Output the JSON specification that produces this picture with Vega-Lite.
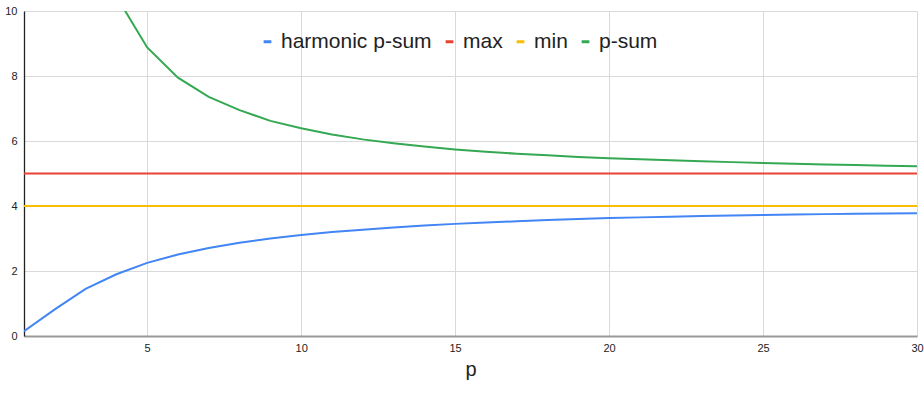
{
  "$schema": "https://vega.github.io/schema/vega-lite/v6.json",
  "width": 893,
  "height": 325,
  "autosize": {"type": "none"},
  "padding": {"left": 24, "top": 11, "right": 7, "bottom": 73},
  "background": "white",
  "config": {
    "view": {"stroke": null},
    "font": "Liberation Sans",
    "axis": {"labelFont": "Liberation Sans", "titleFont": "Liberation Sans"}
  },
  "datasets": {
    "rows": [
      {"p":1,"series":"harmonic p-sum","value":0.15},{"p":2,"series":"harmonic p-sum","value":0.82},{"p":3,"series":"harmonic p-sum","value":1.45},{"p":4,"series":"harmonic p-sum","value":1.9},{"p":5,"series":"harmonic p-sum","value":2.25},{"p":6,"series":"harmonic p-sum","value":2.51},{"p":7,"series":"harmonic p-sum","value":2.71},{"p":8,"series":"harmonic p-sum","value":2.87},{"p":9,"series":"harmonic p-sum","value":3.0},{"p":10,"series":"harmonic p-sum","value":3.11},{"p":11,"series":"harmonic p-sum","value":3.2},{"p":12,"series":"harmonic p-sum","value":3.27},{"p":13,"series":"harmonic p-sum","value":3.34},{"p":14,"series":"harmonic p-sum","value":3.4},{"p":15,"series":"harmonic p-sum","value":3.45},{"p":16,"series":"harmonic p-sum","value":3.49},{"p":17,"series":"harmonic p-sum","value":3.53},{"p":18,"series":"harmonic p-sum","value":3.57},{"p":19,"series":"harmonic p-sum","value":3.6},{"p":20,"series":"harmonic p-sum","value":3.63},{"p":21,"series":"harmonic p-sum","value":3.65},{"p":22,"series":"harmonic p-sum","value":3.67},{"p":23,"series":"harmonic p-sum","value":3.69},{"p":24,"series":"harmonic p-sum","value":3.71},{"p":25,"series":"harmonic p-sum","value":3.72},{"p":26,"series":"harmonic p-sum","value":3.74},{"p":27,"series":"harmonic p-sum","value":3.75},{"p":28,"series":"harmonic p-sum","value":3.76},{"p":29,"series":"harmonic p-sum","value":3.77},{"p":30,"series":"harmonic p-sum","value":3.78},
      {"p":1,"series":"max","value":5},{"p":2,"series":"max","value":5},{"p":3,"series":"max","value":5},{"p":4,"series":"max","value":5},{"p":5,"series":"max","value":5},{"p":6,"series":"max","value":5},{"p":7,"series":"max","value":5},{"p":8,"series":"max","value":5},{"p":9,"series":"max","value":5},{"p":10,"series":"max","value":5},{"p":11,"series":"max","value":5},{"p":12,"series":"max","value":5},{"p":13,"series":"max","value":5},{"p":14,"series":"max","value":5},{"p":15,"series":"max","value":5},{"p":16,"series":"max","value":5},{"p":17,"series":"max","value":5},{"p":18,"series":"max","value":5},{"p":19,"series":"max","value":5},{"p":20,"series":"max","value":5},{"p":21,"series":"max","value":5},{"p":22,"series":"max","value":5},{"p":23,"series":"max","value":5},{"p":24,"series":"max","value":5},{"p":25,"series":"max","value":5},{"p":26,"series":"max","value":5},{"p":27,"series":"max","value":5},{"p":28,"series":"max","value":5},{"p":29,"series":"max","value":5},{"p":30,"series":"max","value":5},
      {"p":1,"series":"min","value":4},{"p":2,"series":"min","value":4},{"p":3,"series":"min","value":4},{"p":4,"series":"min","value":4},{"p":5,"series":"min","value":4},{"p":6,"series":"min","value":4},{"p":7,"series":"min","value":4},{"p":8,"series":"min","value":4},{"p":9,"series":"min","value":4},{"p":10,"series":"min","value":4},{"p":11,"series":"min","value":4},{"p":12,"series":"min","value":4},{"p":13,"series":"min","value":4},{"p":14,"series":"min","value":4},{"p":15,"series":"min","value":4},{"p":16,"series":"min","value":4},{"p":17,"series":"min","value":4},{"p":18,"series":"min","value":4},{"p":19,"series":"min","value":4},{"p":20,"series":"min","value":4},{"p":21,"series":"min","value":4},{"p":22,"series":"min","value":4},{"p":23,"series":"min","value":4},{"p":24,"series":"min","value":4},{"p":25,"series":"min","value":4},{"p":26,"series":"min","value":4},{"p":27,"series":"min","value":4},{"p":28,"series":"min","value":4},{"p":29,"series":"min","value":4},{"p":30,"series":"min","value":4},
      {"p":1,"series":"p-sum","value":100},{"p":2,"series":"p-sum","value":22},{"p":3,"series":"p-sum","value":13.7},{"p":4,"series":"p-sum","value":10.45},{"p":5,"series":"p-sum","value":8.88},{"p":6,"series":"p-sum","value":7.95},{"p":7,"series":"p-sum","value":7.36},{"p":8,"series":"p-sum","value":6.95},{"p":9,"series":"p-sum","value":6.62},{"p":10,"series":"p-sum","value":6.39},{"p":11,"series":"p-sum","value":6.2},{"p":12,"series":"p-sum","value":6.05},{"p":13,"series":"p-sum","value":5.93},{"p":14,"series":"p-sum","value":5.83},{"p":15,"series":"p-sum","value":5.74},{"p":16,"series":"p-sum","value":5.67},{"p":17,"series":"p-sum","value":5.61},{"p":18,"series":"p-sum","value":5.56},{"p":19,"series":"p-sum","value":5.51},{"p":20,"series":"p-sum","value":5.47},{"p":21,"series":"p-sum","value":5.44},{"p":22,"series":"p-sum","value":5.41},{"p":23,"series":"p-sum","value":5.38},{"p":24,"series":"p-sum","value":5.35},{"p":25,"series":"p-sum","value":5.32},{"p":26,"series":"p-sum","value":5.3},{"p":27,"series":"p-sum","value":5.28},{"p":28,"series":"p-sum","value":5.26},{"p":29,"series":"p-sum","value":5.24},{"p":30,"series":"p-sum","value":5.22}
    ]
  },
  "data": {"name": "rows"},
  "mark": {"type": "line", "strokeWidth": 2, "clip": true},
  "encoding": {
    "x": {
      "field": "p", "type": "quantitative", "title": "p",
      "scale": {"domain": [1, 30], "nice": false, "zero": false},
      "axis": {
        "values": [5, 10, 15, 20, 25, 30],
        "grid": true, "gridColor": "#d9d9d9", "gridWidth": 1,
        "domainColor": "#999999", "domainWidth": 2,
        "ticks": false, "labelPadding": 6, "labelFontSize": 11, "labelColor": "#222222",
        "labelFlush": false,
        "titleFontSize": 20, "titleFontWeight": "normal", "titleColor": "#222222", "titlePadding": 6
      }
    },
    "y": {
      "field": "value", "type": "quantitative", "title": null,
      "scale": {"domain": [0, 10], "nice": false},
      "axis": {
        "values": [0, 2, 4, 6, 8, 10],
        "grid": true, "gridColor": "#d9d9d9", "gridWidth": 1,
        "domainColor": "#222222", "domainWidth": 1.3,
        "ticks": false, "labelPadding": 7, "labelFontSize": 11, "labelColor": "#222222",
        "labelFlush": false
      }
    },
    "color": {
      "field": "series", "type": "nominal",
      "scale": {"domain": ["harmonic p-sum", "max", "min", "p-sum"], "range": ["#4285F4", "#EA4335", "#FBBC04", "#34A853"]},
      "legend": {
        "title": null, "orient": "none", "direction": "horizontal",
        "legendX": 233, "legendY": 20,
        "symbolType": "stroke", "symbolStrokeWidth": 3, "symbolSize": 60,
        "labelFontSize": 21, "labelColor": "#222222", "labelOffset": 3,
        "columnPadding": 7
      }
    }
  }
}
